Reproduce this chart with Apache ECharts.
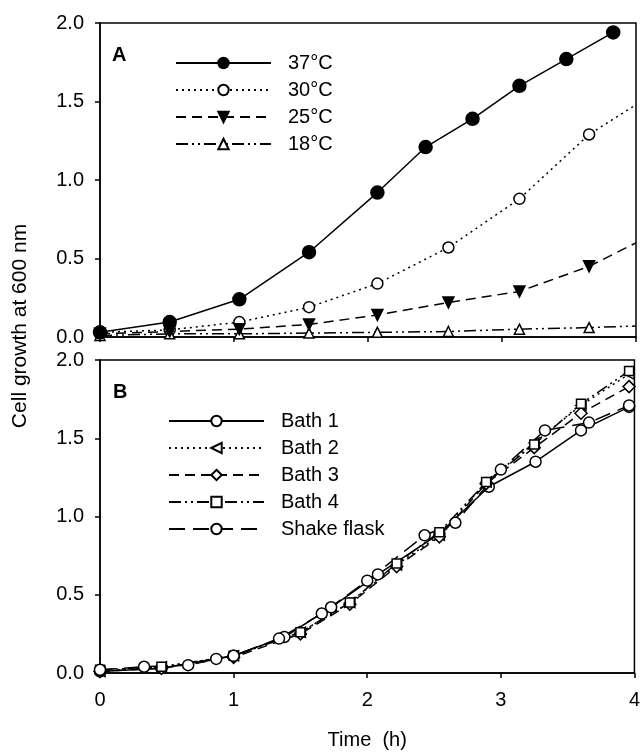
<!DOCTYPE html>
<html>
<head>
<meta charset="utf-8">
<script src="https://cdn.jsdelivr.net/npm/echarts@6/dist/echarts.min.js"></script>
<style>
html,body{margin:0;padding:0;background:#fff}
#chart{width:643px;height:755px}
</style>
</head>
<body>
<div id="chart"></div>
<script>
// panel A - growth at different temperatures, [time h, OD600]
const t37 = [[0,0.03],[0.52,0.095],[1.04,0.24],[1.56,0.54],[2.07,0.92],[2.43,1.21],[2.78,1.39],[3.13,1.60],[3.48,1.77],[3.83,1.94]];
const t30 = [[0,0.03],[0.52,0.045],[1.04,0.095],[1.56,0.19],[2.07,0.34],[2.6,0.57],[3.13,0.88],[3.65,1.29],[4.0,1.48]];
const t25 = [[0,0.02],[0.52,0.035],[1.04,0.05],[1.56,0.08],[2.07,0.14],[2.6,0.22],[3.13,0.29],[3.65,0.45],[4.0,0.60]];
const t18 = [[0,0.01],[0.52,0.02],[1.04,0.02],[1.56,0.025],[2.07,0.03],[2.6,0.035],[3.13,0.05],[3.65,0.06],[4.0,0.07]];

// panel B - baths vs shake flask
const bath1 = [[0,0.01],[0.46,0.03],[1.0,0.11],[1.38,0.23],[1.73,0.42],[2.08,0.63],[2.54,0.89],[2.91,1.19],[3.26,1.35],[3.6,1.55],[3.96,1.70]];
const bath2 = [[0,0.01],[0.46,0.04],[1.0,0.11],[1.5,0.26],[1.87,0.45],[2.22,0.69],[2.54,0.88],[2.89,1.22],[3.25,1.47],[3.6,1.71],[3.96,1.91]];
const bath3 = [[0,0.01],[0.46,0.03],[1.0,0.10],[1.5,0.25],[1.87,0.44],[2.22,0.68],[2.54,0.87],[2.89,1.21],[3.25,1.44],[3.6,1.66],[3.96,1.83]];
const bath4 = [[0,0.02],[0.46,0.04],[1.0,0.11],[1.5,0.26],[1.87,0.45],[2.22,0.70],[2.54,0.90],[2.89,1.22],[3.25,1.46],[3.6,1.72],[3.96,1.93]];
const shake = [[0,0.02],[0.33,0.04],[0.66,0.05],[0.87,0.09],[1.0,0.11],[1.34,0.22],[1.66,0.38],[2.0,0.59],[2.43,0.88],[2.66,0.96],[3.0,1.30],[3.33,1.55],[3.66,1.60],[3.96,1.71]];

const xTicks = [0,1,2,3,4];
const yTicks = [0,0.5,1.0,1.5,2.0];

const FONT = 'Liberation Sans, Arial, sans-serif';

// last point of these curves is only where the line leaves the frame
function openEnd(arr){
  return arr.map((p,i)=> i===arr.length-1 ? {value:p, symbol:'none'} : p);
}

function mkLine(name, data, idx, dash, symbol, size, filled, rot){
  return {
    name: name,
    type: 'line',
    xAxisIndex: idx,
    yAxisIndex: idx,
    data: data,
    symbol: symbol,
    symbolSize: size,
    symbolRotate: rot || 0,
    showSymbol: true,
    animation: false,
    z: filled ? 3 : 2,
    lineStyle: {color:'#000', width:1.5, type: dash},
    itemStyle: {color: filled ? '#000' : '#fff', borderColor:'#000', borderWidth:1.5}
  };
}

function mkX(idx, showLabel){
  return {
    type:'value', gridIndex: idx, min: xTicks[0], max: xTicks[xTicks.length-1], interval: 1,
    axisLine:{show:true, lineStyle:{color:'#000', width:1.5}},
    axisTick:{show:true, length:5, lineStyle:{color:'#000', width:1.5}},
    splitLine:{show:false},
    axisLabel:{show: showLabel, color:'#000', fontSize:20, fontFamily:FONT, margin:17},
    name: showLabel ? 'Time  (h)' : '',
    nameLocation:'middle', nameGap:57,
    nameTextStyle:{color:'#000', fontSize:20, fontFamily:FONT}
  };
}

function mkY(idx){
  return {
    type:'value', gridIndex: idx, min: yTicks[0], max: yTicks[yTicks.length-1], interval: 0.5,
    axisLine:{show:true, lineStyle:{color:'#000', width:1.5}},
    axisTick:{show:true, length:5, lineStyle:{color:'#000', width:1.5}},
    splitLine:{show:false},
    axisLabel:{color:'#000', fontSize:20, fontFamily:FONT, margin:16, formatter: v => v.toFixed(1)}
  };
}

function mkLegend(names, left, top){
  return {
    data: names, orient:'vertical', left: left, top: top,
    itemWidth: 95, itemHeight: 13, itemGap: 7,
    textStyle:{color:'#000', fontSize:20, fontFamily:FONT, padding:[0,0,0,12]},
    selectedMode:false
  };
}

const chart = echarts.init(document.getElementById('chart'), null, {renderer:'canvas'});

const option = {
  backgroundColor:'#fff',
  animation:false,
  grid:[
    {left:100, top:23, width:536, height:314, show:true, borderColor:'#000', borderWidth:1.5, backgroundColor:'transparent'},
    {left:100, top:360, width:536, height:313, show:true, borderColor:'#000', borderWidth:1.5, backgroundColor:'transparent'}
  ],
  xAxis:[mkX(0,false), mkX(1,true)],
  yAxis:[mkY(0), mkY(1)],
  legend:[
    mkLegend(['37°C','30°C','25°C','18°C'], 170, 48),
    mkLegend(['Bath 1','Bath 2','Bath 3','Bath 4','Shake flask'], 163, 406)
  ],
  graphic:[
    {type:'text', left:112, top:45, style:{text:'A', font:'bold 20px '+FONT, fill:'#000'}},
    {type:'text', left:113, top:382, style:{text:'B', font:'bold 20px '+FONT, fill:'#000'}},
    {type:'text', x:20, y:326, rotation:Math.PI/2,
     style:{text:'Cell growth at 600 nm', font:'21px '+FONT, fill:'#000', align:'center', verticalAlign:'middle'}}
  ],
  series:[
    mkLine('37°C', t37, 0, 'solid', 'circle', 13, true),
    mkLine('30°C', openEnd(t30), 0, [2,4], 'circle', 11, false),
    mkLine('25°C', openEnd(t25), 0, [10,6], 'triangle', 11, true, 180),
    mkLine('18°C', openEnd(t18), 0, [12,4,2,4,2,4], 'triangle', 10, false),
    mkLine('Bath 1', bath1, 1, 'solid', 'circle', 11, false),
    mkLine('Bath 2', bath2, 1, [2,4], 'triangle', 10, false, 90),
    mkLine('Bath 3', bath3, 1, [10,6], 'diamond', 12, false),
    mkLine('Bath 4', bath4, 1, [12,4,2,4,2,4], 'rect', 9, false),
    mkLine('Shake flask', shake, 1, [16,8], 'circle', 11, false)
  ]
};

chart.setOption(option);
</script>
</body>
</html>
